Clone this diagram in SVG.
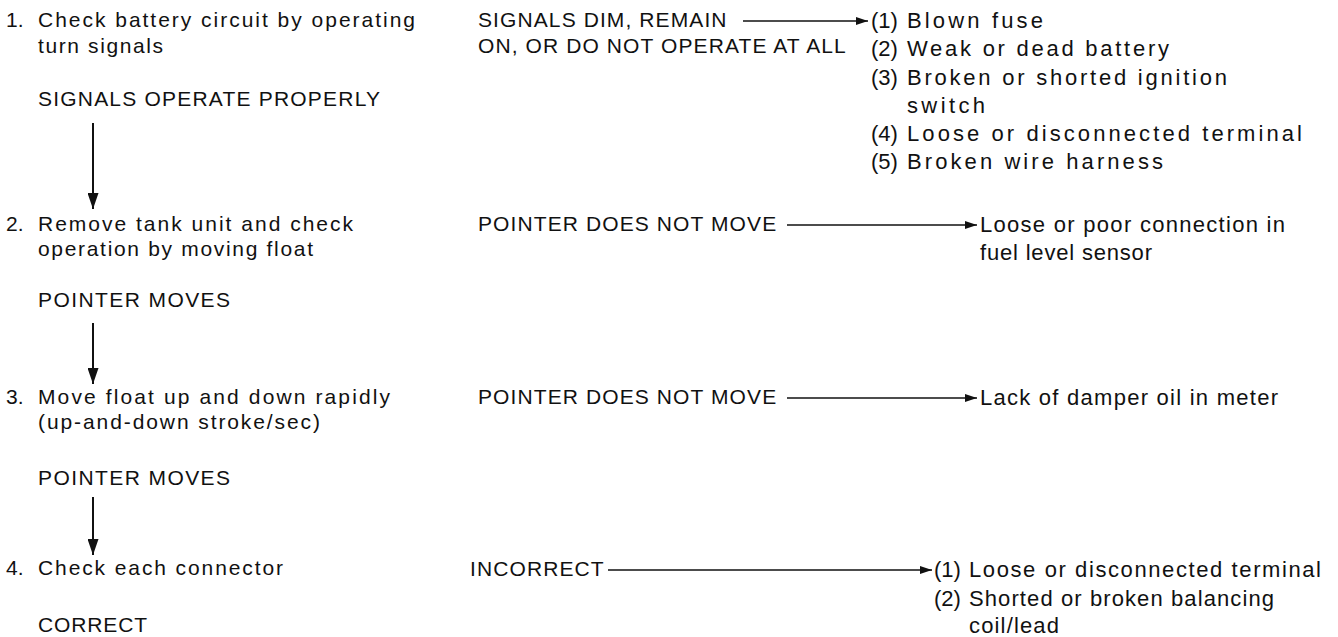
<svg xmlns="http://www.w3.org/2000/svg" width="1338" height="637" viewBox="0 0 1338 637">
<defs>
<style>
text{font-family:"Liberation Sans",Arial,sans-serif;font-size:21px;fill:#111}
.c{letter-spacing:1.1px}
.r2{font-size:22px}
.ln{stroke:#111;stroke-width:1.6;fill:none}
.vl{stroke:#111;stroke-width:2;fill:none}
</style>
<marker id="ah" viewBox="0 0 12 10" refX="12" refY="5" markerWidth="12" markerHeight="10" markerUnits="userSpaceOnUse" orient="auto"><path d="M0,1 L12,5 L0,9 Z" fill="#111"/></marker>
<marker id="av" viewBox="0 0 16 11" refX="16" refY="5.5" markerWidth="16" markerHeight="11" markerUnits="userSpaceOnUse" orient="auto"><path d="M0,0 L16,5.5 L0,11 Z" fill="#111"/></marker>
</defs>
<g id="step1">
<text x="6" y="27">1.</text>
<text x="38" y="27" textLength="377" lengthAdjust="spacing">Check battery circuit by operating</text>
<text x="38" y="53" textLength="125" lengthAdjust="spacing">turn signals</text>
</g>
<g id="ok1"><text x="38" y="106" textLength="342" lengthAdjust="spacing">SIGNALS OPERATE PROPERLY</text></g>
<g id="step2">
<text x="6" y="231">2.</text>
<text x="38" y="231" textLength="315" lengthAdjust="spacing">Remove tank unit and check</text>
<text x="38" y="256" textLength="275" lengthAdjust="spacing">operation by moving float</text>
</g>
<g id="ok2"><text x="38" y="307" textLength="192" lengthAdjust="spacing">POINTER MOVES</text></g>
<g id="step3">
<text x="6" y="404">3.</text>
<text x="38" y="404" textLength="352" lengthAdjust="spacing">Move float up and down rapidly</text>
<text x="38" y="429" textLength="282" lengthAdjust="spacing">(up-and-down stroke/sec)</text>
</g>
<g id="ok3"><text x="38" y="485" textLength="192" lengthAdjust="spacing">POINTER MOVES</text></g>
<g id="step4">
<text x="6" y="575">4.</text>
<text x="38" y="575" textLength="245" lengthAdjust="spacing">Check each connector</text>
</g>
<g id="ok4"><text x="38" y="632" textLength="109" lengthAdjust="spacing">CORRECT</text></g>

<g id="fail1"><text x="478" y="27" class="c">SIGNALS DIM, REMAIN</text><text x="478" y="53" class="c">ON, OR DO NOT OPERATE AT ALL</text></g>
<g id="fail2"><text x="478" y="231" class="c">POINTER DOES NOT MOVE</text></g>
<g id="fail3"><text x="478" y="404" class="c">POINTER DOES NOT MOVE</text></g>
<g id="fail4"><text x="470" y="576" class="c">INCORRECT</text></g>

<g id="cause1">
<text class="r2" x="871" y="28">(1)</text><text class="r2" x="907" y="28" textLength="136" lengthAdjust="spacing">Blown fuse</text>
<text class="r2" x="871" y="56">(2)</text><text class="r2" x="907" y="56" textLength="262" lengthAdjust="spacing">Weak or dead battery</text>
<text class="r2" x="871" y="85">(3)</text><text class="r2" x="907" y="85" textLength="320" lengthAdjust="spacing">Broken or shorted ignition</text>
<text class="r2" x="907" y="113" textLength="78" lengthAdjust="spacing">switch</text>
<text class="r2" x="871" y="141">(4)</text><text class="r2" x="907" y="141" textLength="395" lengthAdjust="spacing">Loose or disconnected terminal</text>
<text class="r2" x="871" y="169">(5)</text><text class="r2" x="907" y="169" textLength="256" lengthAdjust="spacing">Broken wire harness</text>
</g>
<g id="cause2">
<text class="r2" x="980" y="232" textLength="305" lengthAdjust="spacing">Loose or poor connection in</text>
<text class="r2" x="980" y="260" textLength="172" lengthAdjust="spacing">fuel level sensor</text>
</g>
<g id="cause3"><text class="r2" x="980" y="405" textLength="298" lengthAdjust="spacing">Lack of damper oil in meter</text></g>
<g id="cause4">
<text class="r2" x="934" y="577">(1)</text><text class="r2" x="969" y="577" textLength="352" lengthAdjust="spacing">Loose or disconnected terminal</text>
<text class="r2" x="934" y="606">(2)</text><text class="r2" x="969" y="606" textLength="305" lengthAdjust="spacing">Shorted or broken balancing</text>
<text class="r2" x="969" y="633" textLength="90" lengthAdjust="spacing">coil/lead</text>
</g>

<g id="connectors">
<line class="vl" x1="93" y1="123" x2="93" y2="209" marker-end="url(#av)"/>
<line class="vl" x1="93" y1="323" x2="93" y2="384" marker-end="url(#av)"/>
<line class="vl" x1="93" y1="497" x2="93" y2="555" marker-end="url(#av)"/>
<line class="ln" x1="743" y1="21" x2="868" y2="21" marker-end="url(#ah)"/>
<line class="ln" x1="787" y1="225" x2="977" y2="225" marker-end="url(#ah)"/>
<line class="ln" x1="787" y1="398" x2="977" y2="398" marker-end="url(#ah)"/>
<line class="ln" x1="608" y1="570" x2="932" y2="570" marker-end="url(#ah)"/>
</g>
</svg>
